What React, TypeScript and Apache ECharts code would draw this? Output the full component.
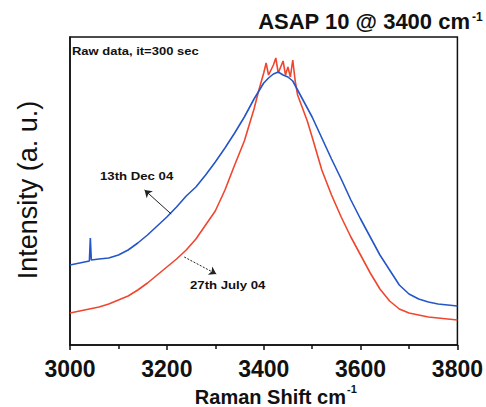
import React, { useEffect, useRef } from "react";
import * as echarts from "echarts";

// Raman shift (cm^-1) and intensity (a.u.)
const decX = [3000, 3020, 3040, 3042, 3044, 3060, 3080, 3100, 3120, 3140, 3160, 3180, 3200, 3220, 3240, 3260, 3280, 3300, 3320, 3340, 3360, 3380, 3400, 3410, 3420, 3430, 3440, 3450, 3460, 3470, 3480, 3500, 3520, 3540, 3560, 3580, 3600, 3620, 3640, 3660, 3680, 3700, 3720, 3740, 3760, 3780, 3800];
const decY = [80, 82, 84, 107, 85, 86, 87, 90, 95, 102, 110, 119, 128, 138, 149, 158, 170, 183, 197, 212, 228, 246, 262, 267, 271, 273, 270, 268, 264, 255, 246, 228, 207, 186, 166, 145, 126, 108, 90, 75, 60, 51, 46, 43, 41, 40, 39];

const julyX = [3000, 3020, 3040, 3060, 3080, 3100, 3120, 3140, 3160, 3180, 3200, 3220, 3240, 3260, 3280, 3300, 3320, 3340, 3360, 3380, 3390, 3400, 3405, 3410, 3420, 3425, 3430, 3440, 3445, 3450, 3455, 3460, 3465, 3470, 3480, 3490, 3500, 3520, 3540, 3560, 3580, 3600, 3620, 3640, 3660, 3680, 3700, 3720, 3740, 3760, 3780, 3800];
const julyY = [32, 34, 36, 38, 41, 45, 49, 55, 62, 70, 78, 86, 95, 106, 120, 134, 155, 180, 204, 236, 255, 272, 282, 270, 280, 287, 272, 284, 270, 278, 268, 285, 264, 250, 237, 224, 208, 175, 150, 128, 108, 90, 72, 56, 44, 36, 32, 30, 28, 27, 26, 25];

const xTicks = { min: 3000, max: 3800, interval: 200 };

const decArrow = [[3209, 131], [3154, 155]];
const julyArrow = [[3236, 88], [3302, 71]];

export default function App() {
  const ref = useRef<HTMLDivElement>(null);
  useEffect(() => {
    const chart = echarts.init(ref.current!, null, { renderer: "svg" });
    const font = "'Liberation Sans', Arial, sans-serif";
    chart.setOption({
      animation: false,
      backgroundColor: "#ffffff",
      grid: {
        left: 70,
        right: 26,
        top: 37,
        bottom: 62,
        show: true,
        borderColor: "#111",
        borderWidth: 1.5,
      },
      xAxis: {
        type: "value",
        min: xTicks.min,
        max: xTicks.max,
        interval: xTicks.interval,
        axisLine: { show: true, lineStyle: { color: "#111", width: 1.5 } },
        axisTick: { show: true, inside: false, length: 5, lineStyle: { color: "#111", width: 1.5 } },
        minorTick: { show: true, splitNumber: 2, length: 4, lineStyle: { color: "#111", width: 1.5 } },
        splitLine: { show: false },
        axisLabel: {
          color: "#111",
          fontFamily: font,
          fontWeight: "bold",
          fontSize: 23,
          margin: 12,
          formatter: (v: number) => String(v),
        },
      },
      yAxis: {
        type: "value",
        min: 0,
        max: 308,
        axisLine: { show: true, lineStyle: { color: "#111", width: 1.5 } },
        axisTick: { show: false },
        axisLabel: { show: false },
        splitLine: { show: false },
      },
      series: [
        {
          type: "line",
          name: "27th July 04",
          data: julyX.map((x, i) => [x, julyY[i]]),
          showSymbol: false,
          lineStyle: { color: "#f0462f", width: 1.6 },
          itemStyle: { color: "#f0462f" },
          z: 2,
          markLine: {
            silent: true,
            symbol: ["none", "arrow"],
            symbolSize: 7,
            label: { show: false },
            lineStyle: { color: "#222", width: 1, type: [2, 1.5] },
            data: [[{ coord: julyArrow[0] }, { coord: julyArrow[1] }]],
          },
        },
        {
          type: "line",
          name: "13th Dec 04",
          data: decX.map((x, i) => [x, decY[i]]),
          showSymbol: false,
          lineStyle: { color: "#2456c8", width: 1.6 },
          itemStyle: { color: "#2456c8" },
          z: 3,
          markLine: {
            silent: true,
            symbol: ["none", "arrow"],
            symbolSize: 7,
            label: { show: false },
            lineStyle: { color: "#222", width: 1, type: "solid" },
            data: [[{ coord: decArrow[0] }, { coord: decArrow[1] }]],
          },
        },
      ],
      graphic: [
        {
          type: "text",
          x: 470,
          y: 32,
          style: {
            text: "ASAP 10 @ 3400 cm",
            font: `bold 22px ${font}`,
            fill: "#111",
            textAlign: "right",
            textVerticalAlign: "bottom",
          },
        },
        {
          type: "text",
          x: 472,
          y: 11,
          style: {
            text: "-1",
            font: `bold 12px ${font}`,
            fill: "#111",
            textAlign: "left",
            textVerticalAlign: "top",
          },
        },
        {
          type: "text",
          x: 346,
          y: 387,
          style: {
            text: "Raman Shift cm",
            font: `bold 20px ${font}`,
            fill: "#111",
            textAlign: "right",
            textVerticalAlign: "top",
          },
        },
        {
          type: "text",
          x: 347,
          y: 383,
          style: {
            text: "-1",
            font: `bold 11px ${font}`,
            fill: "#111",
            textAlign: "left",
            textVerticalAlign: "top",
          },
        },
        {
          type: "text",
          x: 28,
          y: 190,
          rotation: Math.PI / 2,
          style: {
            text: "Intensity (a. u.)",
            font: `27px ${font}`,
            fill: "#111",
            textAlign: "center",
            textVerticalAlign: "middle",
          },
        },
        {
          type: "text",
          x: 72,
          y: 52,
          scaleX: 1.3,
          style: {
            text: "Raw data, it=300 sec",
            font: `bold 10px ${font}`,
            fill: "#111",
            textAlign: "left",
            textVerticalAlign: "middle",
          },
        },
        {
          type: "text",
          x: 100,
          y: 176,
          scaleX: 1.2,
          style: {
            text: "13th Dec 04",
            font: `bold 11px ${font}`,
            fill: "#111",
            textAlign: "left",
            textVerticalAlign: "middle",
          },
        },
        {
          type: "text",
          x: 190,
          y: 285,
          scaleX: 1.2,
          style: {
            text: "27th July 04",
            font: `bold 11px ${font}`,
            fill: "#111",
            textAlign: "left",
            textVerticalAlign: "middle",
          },
        },
      ],
    });
    return () => chart.dispose();
  }, []);
  return (
    <div
      ref={ref}
      style={{ position: "absolute", left: 0, top: 0, width: 486, height: 407 }}
    />
  );
}
